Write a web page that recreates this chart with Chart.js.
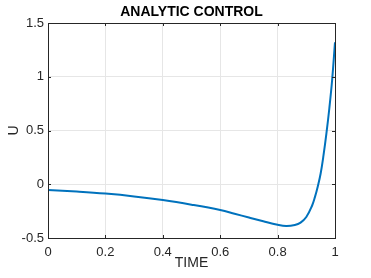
<!DOCTYPE html>
<html>
<head>
<meta charset="utf-8">
<script src="https://cdn.jsdelivr.net/npm/chart.js@4.4.0/dist/chart.umd.min.js"></script>
<style>
  html, body { margin: 0; padding: 0; background: #fff; }
</style>
</head>
<body>
<canvas id="c" width="371" height="278"></canvas>
<script>
// values
const timeValues = [0, 0.1, 0.2, 0.3, 0.4, 0.5, 0.6, 0.65, 0.7, 0.75, 0.8, 0.83, 0.86, 0.88, 0.9, 0.92, 0.93, 0.94, 0.95, 0.96, 0.97, 0.98, 0.99, 1.0];
const controlValues = [-0.053, -0.068, -0.087, -0.113, -0.147, -0.19, -0.24, -0.274, -0.31, -0.345, -0.377, -0.388, -0.379, -0.357, -0.305, -0.20, -0.12, -0.02, 0.1, 0.27, 0.47, 0.70, 0.97, 1.32];

const xTickValues = [0, 0.2, 0.4, 0.6, 0.8, 1];
const xTickLabels = ['0', '0.2', '0.4', '0.6', '0.8', '1'];
const yTickValues = [-0.5, 0, 0.5, 1, 1.5];
const yTickLabels = ['-0.5', '0', '0.5', '1', '1.5'];

const axisColor = '#262626';
const gridColor = '#e6e6e6';
const fontFamily = '"Liberation Sans", Arial, Helvetica, sans-serif';

// Title plus MATLAB-like box with inward ticks on all four sides.
const boxPlugin = {
  id: 'matlabBox',
  afterDraw: (chart) => {
    const { ctx, chartArea: { left, top, right, bottom } } = chart;
    const xs = chart.scales.x, ys = chart.scales.y;
    const tick = 3;
    ctx.save();
    ctx.strokeStyle = axisColor;
    ctx.lineWidth = 1;
    ctx.strokeRect(left + 0.5, top + 0.5, right - left, bottom - top);
    ctx.beginPath();
    xTickValues.forEach((v) => {
      const px = Math.round(xs.getPixelForValue(v)) + 0.5;
      ctx.moveTo(px, bottom); ctx.lineTo(px, bottom - tick);
      ctx.moveTo(px, top); ctx.lineTo(px, top + tick);
    });
    yTickValues.forEach((v) => {
      const py = Math.round(ys.getPixelForValue(v)) + 0.5;
      ctx.moveTo(left, py); ctx.lineTo(left + tick, py);
      ctx.moveTo(right, py); ctx.lineTo(right - tick, py);
    });
    ctx.stroke();

    ctx.fillStyle = '#000';
    ctx.font = `bold 14px ${fontFamily}`;
    ctx.textAlign = 'center';
    ctx.textBaseline = 'middle';
    ctx.fillText('ANALYTIC CONTROL', (left + right) / 2, 12.5);
    ctx.restore();
  }
};

new Chart(document.getElementById('c'), {
  type: 'line',
  data: {
    datasets: [{
      data: timeValues.map((t, i) => ({ x: t, y: controlValues[i] })),
      borderColor: '#0072BD',
      borderWidth: 2,
      pointRadius: 0,
      tension: 0.4,
      fill: false
    }]
  },
  options: {
    responsive: false,
    animation: false,
    devicePixelRatio: 1,
    layout: { padding: { left: 0, right: 36, top: 23, bottom: 0 } },
    plugins: { legend: { display: false }, title: { display: false }, tooltip: { enabled: false } },
    scales: {
      x: {
        type: 'linear',
        min: 0,
        max: 1,
        afterBuildTicks: (s) => { s.ticks = xTickValues.map((v) => ({ value: v })); },
        afterFit: (s) => { s.height = 40; },
        ticks: {
          autoSkip: false,
          maxRotation: 0,
          padding: 7,
          color: axisColor,
          font: { family: fontFamily, size: 13 },
          callback: (v, i) => xTickLabels[i]
        },
        grid: { color: gridColor, drawTicks: false },
        border: { display: false },
        title: {
          display: true,
          text: 'TIME',
          color: axisColor,
          font: { family: fontFamily, size: 14 },
          padding: { top: 0, bottom: 6 }
        }
      },
      y: {
        type: 'linear',
        min: -0.5,
        max: 1.5,
        afterBuildTicks: (s) => { s.ticks = yTickValues.map((v) => ({ value: v })); },
        afterFit: (s) => { s.width = 48; },
        ticks: {
          autoSkip: false,
          padding: 4,
          color: axisColor,
          font: { family: fontFamily, size: 13 },
          callback: (v, i) => yTickLabels[i]
        },
        grid: { color: gridColor, drawTicks: false },
        border: { display: false },
        title: {
          display: true,
          text: 'U',
          color: axisColor,
          font: { family: fontFamily, size: 14 },
          padding: { top: 6, bottom: 0 }
        }
      }
    }
  },
  plugins: [boxPlugin]
});
</script>
</body>
</html>
